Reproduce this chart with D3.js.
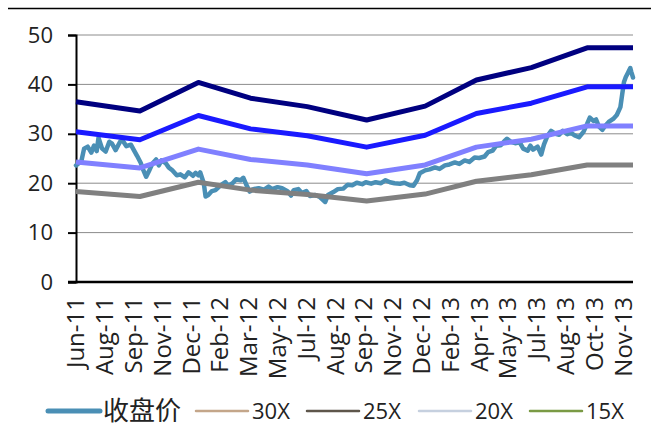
<!DOCTYPE html>
<html lang="zh">
<head>
<meta charset="UTF-8">
<script src="https://d3js.org/d3.v7.min.js"></script>
<style>
    body { margin: 0; background: #fff; }
    svg { display: block; }
    text { font-family: "Open Sans", "Noto Sans CJK SC", sans-serif; fill: #222; }
</style>
</head>
<body>
<script>
    // x is trading-day index, tick label every 32 days
    const tickLabels = ["Jun-11", "Aug-11", "Sep-11", "Nov-11", "Dec-11", "Feb-12", "Mar-12", "May-12", "Jul-12", "Aug-12",
        "Sep-12", "Nov-12", "Dec-12", "Feb-13", "Apr-13", "May-13", "Jul-13", "Aug-13", "Oct-13", "Nov-13"]
    const tickStep = 32
    const lastDay = 619

    // valuation band vertices (trading day)
    const bandDays = [0, 71, 136, 194, 257, 323, 388, 445, 506, 568, 619]
    const pe30 = [36.5, 34.6, 40.4, 37.2, 35.5, 32.8, 35.6, 40.9, 43.4, 47.4, 47.4]
    const pe25 = [30.4, 28.8, 33.7, 31.0, 29.6, 27.3, 29.7, 34.1, 36.2, 39.5, 39.5]
    const pe20 = [24.3, 23.1, 26.9, 24.8, 23.7, 21.9, 23.7, 27.3, 28.9, 31.6, 31.6]
    const pe15 = [18.3, 17.3, 20.2, 18.6, 17.7, 16.4, 17.8, 20.4, 21.7, 23.7, 23.7]

    // closing price [day, close]
    const closePrice = [
        [0, 23.6], [6, 24.5], [9, 27.0], [13, 27.4], [17, 26.2], [20, 27.6], [23, 26.5], [25, 29.2], [29, 27.0],
        [33, 26.4], [37, 28.4], [40, 28.0], [44, 26.7], [49, 28.4], [52, 28.6], [56, 27.5], [61, 27.8], [64, 26.8],
        [68, 25.5], [72, 24.1], [74, 23.0], [78, 21.3], [81, 22.4], [85, 24.0], [89, 24.8], [92, 23.6], [95, 24.6],
        [100, 24.0], [103, 23.2], [107, 22.6], [112, 21.6], [116, 21.8], [121, 21.2], [125, 22.2], [130, 21.5],
        [133, 22.1], [136, 21.6], [138, 22.2], [142, 20.0], [144, 17.3], [147, 17.6], [151, 18.4], [155, 18.6],
        [161, 19.6], [166, 20.2], [169, 19.5], [174, 20.0], [178, 20.8], [183, 20.6], [186, 21.1], [189, 19.8],
        [193, 18.3], [197, 18.8], [203, 19.0], [209, 18.7], [214, 19.3], [218, 18.8], [224, 19.2], [229, 19.0],
        [235, 18.4], [239, 17.5], [242, 18.6], [247, 18.8], [251, 18.0], [256, 18.4], [260, 17.4], [266, 17.6],
        [271, 17.2], [277, 16.2], [280, 17.6], [286, 18.2], [291, 18.8], [297, 18.9], [302, 19.7], [307, 19.6],
        [312, 20.1], [318, 19.8], [322, 20.2], [328, 19.9], [333, 20.2], [339, 20.0], [344, 20.6], [349, 20.2],
        [354, 20.0], [360, 19.9], [365, 20.1], [371, 19.6], [375, 19.5], [379, 20.6], [382, 22.0], [388, 22.6],
        [393, 22.8], [399, 23.2], [404, 22.9], [410, 23.6], [415, 23.8], [421, 24.2], [426, 23.9], [432, 24.6],
        [437, 24.3], [443, 25.2], [448, 25.1], [454, 25.4], [458, 26.3], [463, 26.6], [467, 27.6], [472, 27.7],
        [476, 28.5], [479, 29.0], [484, 28.3], [488, 28.1], [493, 28.3], [497, 27.0], [502, 26.6], [505, 27.6],
        [508, 26.8], [513, 27.4], [517, 25.8], [520, 27.8], [524, 29.6], [528, 30.6], [533, 30.0], [537, 29.8],
        [541, 30.6], [546, 29.9], [550, 30.2], [555, 29.6], [559, 29.3], [564, 30.4], [568, 32.0], [571, 33.3],
        [575, 32.6], [578, 32.9], [581, 31.5], [585, 30.8], [588, 31.6], [592, 32.4], [597, 33.0], [601, 33.8],
        [605, 35.4], [607, 38.0], [609, 40.5], [611, 41.5], [613, 42.2], [616, 43.3], [617, 42.6], [619, 41.4]
    ]

    const yTicks = [0, 10, 20, 30, 40, 50]

    const legendNames = ["收盘价", "30X", "25X", "20X", "15X"]
    const legendColors = ["#4a8fb5", "#c4a68a", "#5e564b", "#c6d0df", "#7a9a45"]

    const width = 651, height = 441
    const mLeft = 76, mRight = 633, mTop = 35, mBottom = 282

    let svg = d3.select("body").append("svg")
        .attr("width", width).attr("height", height)

    let x = d3.scaleLinear().domain([0, lastDay]).range([mLeft, mRight])
    let y = d3.scaleLinear().domain([0, 50]).range([mBottom, mTop])

    // top rule
    svg.append("line")
        .attr("x1", 8).attr("x2", width).attr("y1", 8.5).attr("y2", 8.5)
        .attr("stroke", "#000").attr("stroke-width", 1.5)

    // grid
    svg.append("g").selectAll("line")
        .data(yTicks.slice(1))
        .enter().append("line")
        .attr("x1", mLeft).attr("x2", mRight)
        .attr("y1", d => y(d)).attr("y2", d => y(d))
        .attr("stroke", "#8c8c8c").attr("stroke-width", 1)

    // y axis
    let yAxis = svg.append("g")
        .attr("transform", `translate(${mLeft},0)`)
        .call(d3.axisLeft(y).tickValues(yTicks).tickSize(8).tickPadding(15))
    yAxis.select(".domain").attr("stroke", "#000").attr("stroke-width", 2)
    yAxis.selectAll(".tick line").attr("stroke", "#000").attr("stroke-width", 2)
    yAxis.selectAll("text").attr("font-size", 22).attr("fill", "#222")
        .style("font-family", "Open Sans")

    // x axis line
    svg.append("line")
        .attr("x1", mLeft - 8).attr("x2", mRight).attr("y1", mBottom).attr("y2", mBottom)
        .attr("stroke", "#000").attr("stroke-width", 2.5)

    // x tick labels
    svg.append("g").selectAll("text")
        .data(tickLabels)
        .enter().append("text")
        .attr("transform", (d, i) => `translate(${x(i * tickStep)},297) rotate(-90)`)
        .attr("text-anchor", "end")
        .attr("dy", "0.35em")
        .attr("font-size", 24)
        .text(d => d)

    // close price
    let plot = svg.append("g")
    plot.append("path")
        .datum(closePrice)
        .attr("d", d3.line().x(d => x(d[0])).y(d => y(d[1])))
        .attr("fill", "none")
        .attr("stroke", "#4a8fb5")
        .attr("stroke-width", 4.5)
        .attr("stroke-linejoin", "round")
        .attr("stroke-linecap", "round")

    // PE bands
    const bands = [
        { vals: pe15, color: "#808080" },
        { vals: pe20, color: "#8080ff" },
        { vals: pe25, color: "#1a1aff" },
        { vals: pe30, color: "#000080" }
    ]
    let bandLine = d3.line().x((d, i) => x(bandDays[i])).y(d => y(d))
    plot.selectAll(".band")
        .data(bands)
        .enter().append("path")
        .attr("class", "band")
        .attr("d", d => bandLine(d.vals))
        .attr("fill", "none")
        .attr("stroke", d => d.color)
        .attr("stroke-width", 5)
        .attr("stroke-linejoin", "round")

    // legend
    const legendX = [48, 196, 307, 419, 530]
    let legend = svg.append("g").selectAll("g")
        .data(legendNames)
        .enter().append("g")
        .attr("transform", (d, i) => `translate(${legendX[i]},411)`)
    legend.append("line")
        .attr("x1", 0).attr("x2", 52).attr("y1", 0).attr("y2", 0)
        .attr("stroke", (d, i) => legendColors[i])
        .attr("stroke-width", (d, i) => i == 0 ? 5 : 2.5)
        .attr("stroke-linecap", "round")
    legend.append("text")
        .attr("x", (d, i) => i == 0 ? 55 : 56)
        .attr("dy", "0.35em")
        .attr("font-size", (d, i) => i == 0 ? 26 : 22)
        .text(d => d)
</script>
</body>
</html>
